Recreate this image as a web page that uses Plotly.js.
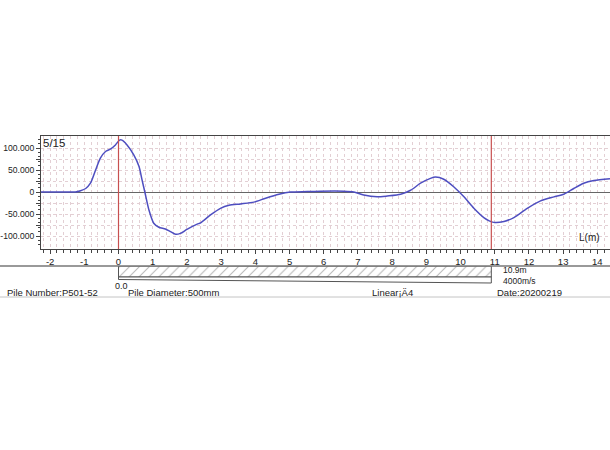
<!DOCTYPE html>
<html>
<head>
<meta charset="utf-8">
<script src="https://cdn.plot.ly/plotly-3.0.1.min.js"></script>
<style>html,body{margin:0;padding:0;background:#fff;}#chart{width:610px;height:450px;}</style>
</head>
<body>
<div id="chart"></div>
<script>
// ---- data ----
const depth = [-2.27, -1.5, -1.26, -1.11, -0.96, -0.82, -0.67, -0.53, -0.38, -0.23, -0.09, 0.03, 0.1, 0.25, 0.45, 0.6, 0.69, 0.77, 0.89, 1.03, 1.18, 1.37, 1.52, 1.67, 1.81, 2.0, 2.3, 2.4, 2.69, 2.98, 3.23, 3.57, 3.96, 4.3, 4.69, 5.03, 5.52, 5.9, 6.59, 6.88, 7.17, 7.56, 7.86, 8.25, 8.54, 8.83, 9.12, 9.27, 9.51, 9.8, 10.1, 10.39, 10.68, 10.97, 11.27, 11.56, 11.95, 12.34, 12.73, 13.02, 13.31, 13.6, 13.9, 14.37];
const velocity = [0, 0, 0, 3, 8, 20, 50, 77, 92, 98, 107, 118, 118, 107, 84, 58, 27, 0, -41, -71, -80, -84, -90, -96, -94, -85, -73, -70, -52, -37, -30, -27, -23, -14, -5, 0, 1, 2, 2, 0, -7, -11, -9, -5, 4, 20, 31, 34, 29, 12, -11, -37, -58, -69, -67, -58, -37, -20, -11, -5, 8, 20, 26, 30];
const markerPositions = [0, 10.9];
const pileLength = [10.9];
const yTickVals = [-100, -75, -50, -25, 0, 25, 50, 75, 100];
const yTickText = ["-100.000", "", "-50.000", "", "0", "", "50.000", "", "100.000"];
const xTickVals = [-2, -1, 0, 1, 2, 3, 4, 5, 6, 7, 8, 9, 10, 11, 12, 13, 14];
const xTickText = ["-2", "-1", "0", "1", "2", "3", "4", "5", "6", "7", "8", "9", "10", "11", "12", "13", "14"];
const texts = {
  count: "5/15", unit: "L(m)", pileNumber: "Pile Number:P501-52", zero: "0.0",
  diameter: "Pile Diameter:500mm", linear: "Linear¡Ä4", lengthSpeed: "10.9m<br>4000m/s",
  date: "Date:20200219"
};

// ---- geometry helpers (pixel -> paper) ----
const L = 41, T = 136, B = 297, R = 610;
const px = x => (x - L) / (R - L);
const py = y => (B - y) / (B - T);

const FONT = "Liberation Sans, Arial, sans-serif";
const grid = "#e3cfd4";

const traces = [
  {
    x: depth, y: velocity, type: "scatter", mode: "lines",
    line: {color: "#4e4ec0", width: 1.5, shape: "spline", smoothing: 0.7},
    xaxis: "x", yaxis: "y", hoverinfo: "skip"
  },
  {
    x: pileLength, y: ["pile"], base: [0], type: "bar", orientation: "h", width: [1],
    xaxis: "x2", yaxis: "y2", hoverinfo: "skip",
    marker: {color: "#ffffff", line: {color: "#555", width: 1},
      pattern: {shape: "/", fgcolor: "#b8b8b8", bgcolor: "#ffffff", size: 7, solidity: 0.15}}
  }
];

const shapes = markerPositions.map(v => ({
  type: "line", xref: "x", yref: "paper", x0: v, x1: v, y0: py(249), y1: 1,
  line: {color: "#c85050", width: 1.2}
}));
shapes.push({type: "line", xref: "paper", yref: "paper", x0: px(0), x1: 1, y0: py(266), y1: py(266), line: {color: "#777", width: 1.5}});
shapes.push({type: "line", xref: "paper", yref: "paper", x0: px(0), x1: 1, y0: py(297), y1: py(297), line: {color: "#c4c4c4", width: 1}});
shapes.push({type: "path", xref: "x", yref: "paper",
  path: `M 0,${py(277)} L ${pileLength[0]},${py(277)} L ${pileLength[0]},${py(283)} L 0,${py(279.5)} Z`,
  line: {color: "#555", width: 1}, fillcolor: "#ffffff"});

function ann(text, x, y, size, xanchor) {
  return {text, xref: "paper", yref: "paper", x: px(x), y: py(y), xanchor: xanchor || "left",
    yanchor: "middle", showarrow: false, align: "left", borderpad: 0,
    font: {family: FONT, size: size, color: "#222"}};
}
const annotations = [
  ann(texts.count, 42, 143, 11.5),
  ann(texts.unit, 578, 237, 10),
  ann(texts.pileNumber, 6, 292, 9.5),
  ann(texts.zero, 114, 286, 9),
  ann(texts.diameter, 127, 292, 9.5),
  ann(texts.linear, 371, 292, 9.5),
  ann(texts.lengthSpeed, 502, 275, 8.5),
  ann(texts.date, 496, 292, 9.5)
];

const layout = {
  width: 610, height: 450,
  margin: {l: L, r: 0, t: T, b: 450 - B, pad: 0},
  paper_bgcolor: "#ffffff", plot_bgcolor: "#ffffff",
  showlegend: false,
  font: {family: FONT, size: 10, color: "#222"},
  xaxis: {
    range: [-2.266, 14.37], anchor: "y",
    tickmode: "array", tickvals: xTickVals, ticktext: xTickText,
    ticks: "outside", ticklen: 4, tickcolor: "#444", tickwidth: 1,
    showline: true, linecolor: "#444", linewidth: 1, mirror: true,
    showgrid: true, gridcolor: grid, griddash: "dot", gridwidth: 1,
    zeroline: false,
    minor: {dtick: 0.2, tick0: 0, ticks: "outside", ticklen: 2.5, tickcolor: "#444",
      showgrid: true, gridcolor: grid, griddash: "dot", gridwidth: 1},
    tickfont: {family: FONT, size: 9.5, color: "#222"}, fixedrange: true
  },
  yaxis: {
    domain: [py(249), 1], range: [-129.5, 127.3],
    tickmode: "array", tickvals: yTickVals, ticktext: yTickText,
    ticks: "outside", ticklen: 4, tickcolor: "#444",
    showline: true, linecolor: "#444", linewidth: 1, mirror: false,
    showgrid: true, gridcolor: grid, griddash: "dot", gridwidth: 1,
    zeroline: true, zerolinecolor: "#666", zerolinewidth: 1,
    minor: {dtick: 10, tick0: 0, ticks: "outside", ticklen: 2, tickcolor: "#444", showgrid: false},
    tickfont: {family: FONT, size: 8.6, color: "#222"}, fixedrange: true
  },
  xaxis2: {matches: "x", anchor: "y2", visible: false, showgrid: false, zeroline: false},
  yaxis2: {domain: [py(277), py(266)], type: "category", range: [-0.5, 0.5],
    visible: false, showgrid: false, zeroline: false, fixedrange: true},
  shapes, annotations
};

Plotly.newPlot("chart", traces, layout, {displayModeBar: false, staticPlot: true});
</script>
</body>
</html>
